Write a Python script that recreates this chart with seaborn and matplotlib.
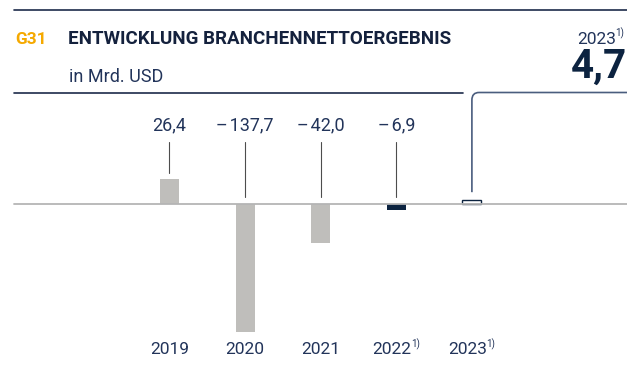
import matplotlib
matplotlib.use("Agg")
import matplotlib.pyplot as plt
from matplotlib.lines import Line2D
from matplotlib.path import Path
from matplotlib.patches import PathPatch
import seaborn as sns
import pandas as pd

years = ["2019", "2020", "2021", "2022", "2023"]
footnotes = ["", "", "", "1)", "1)"]
values = [26.4, -137.7, -42.0, -6.9, 4.7]
value_labels = ["26,4", "–\u200a137,7", "–\u200a42,0", "–\u200a6,9"]
bar_colors = ["#bfbebb", "#bfbebb", "#bfbebb", "#0c2340", "#ffffff"]

NAVY = "#0c2340"
TEXT = "#22345a"
ORANGE = "#f5a900"

sns.set_theme(style="white")
plt.rcParams["font.family"] = ["Roboto", "DejaVu Sans"]

W, H = 627, 373
fig = plt.figure(figsize=(W / 100, H / 100), dpi=100)
ax = fig.add_axes([0, 0, 1, 1])
renderer = fig.canvas.get_renderer()

df = pd.DataFrame({"year": years, "value": values})
sns.barplot(data=df, x="year", y="value", hue="year", palette=bar_colors,
            width=0.25, legend=False, ax=ax, saturation=1, zorder=2)
for i, p in enumerate(ax.patches):
    if i == len(years) - 1:
        p.set_edgecolor(NAVY)
        p.set_linewidth(1.0)
    else:
        p.set_edgecolor("none")

# horizontal scale: ~75.6 px per category, first category at x=169.5 px
px_cat = 75.6
x0 = 169.5
ax.set_xlim(-x0 / px_cat, (W - x0) / px_cat)
# vertical scale: ~0.93 px per unit, zero line at y=204 px from top
px_unit = 0.93
y0 = 204
ax.set_ylim(-(H - y0) / px_unit, y0 / px_unit)
ax.axis("off")


def label_with_note(x_px, y_px, text, note, size, note_size, color, align="center"):
    """Draw text plus a small raised footnote mark; align the whole group."""
    main = fig.text(0, 0, text, ha="left", va="baseline", fontsize=size, color=color)
    bb = main.get_window_extent(renderer)
    w_main, h_main = bb.width, bb.height
    w_note = 0.0
    if note:
        probe = fig.text(0, 0, note, fontsize=note_size)
        w_note = probe.get_window_extent(renderer).width
        probe.remove()
    total = w_main + w_note
    if align == "center":
        left = x_px - total / 2
    else:  # right
        left = x_px - total
    main.set_position((left / W, y_px / H))
    if note:
        fig.text((left + w_main - 0.5) / W, (y_px + 0.45 * h_main) / H, note,
                 ha="left", va="baseline", fontsize=note_size, color=color)


# zero line
ax.axhline(0, xmin=14 / W, xmax=1, color="#b5b5b5", lw=1.3, zorder=3)

# leader lines and value labels
for i, (v, lab) in enumerate(zip(values[:4], value_labels)):
    ax.plot([i, i], [max(v, 0) + 7, 66.7], color="#4d4d4d", lw=0.8, zorder=2)
    ax.text(i, 85, lab, ha="center", va="center", fontsize=13, color=TEXT)

# year labels under the bars
for i, (lab, note) in enumerate(zip(years, footnotes)):
    xp, _ = ax.transData.transform((i, 0))
    label_with_note(xp, H - 354, lab, note, 12.5, 7, TEXT)

# connector from the 2023 bar to the headline figure
inv = ax.transData.inverted()
xi = 4
y_low = values[4] + 8
_, y_top = inv.transform((0, H - 92.5))
_, y_knee = inv.transform((0, H - 100))
x_knee, _ = inv.transform((479, 0))
x_right, _ = inv.transform((W + 2, 0))
path = Path([(xi, y_low), (xi, y_knee), (xi, y_top), (x_knee, y_top), (x_right, y_top)],
            [Path.MOVETO, Path.LINETO, Path.CURVE3, Path.CURVE3, Path.LINETO])
ax.add_patch(PathPatch(path, fill=False, edgecolor="#4a5d7e", lw=1.2, zorder=2,
                       clip_on=False))

# header rules
def hline(y_px, x1_px, x2_px):
    fig.add_artist(Line2D([x1_px / W, x2_px / W], [1 - y_px / H, 1 - y_px / H],
                          transform=fig.transFigure, color="#1c2b4a", lw=1.2))

hline(10, 14, W)
hline(92.5, 14, 463)

# header texts
fig.text(15 / W, 1 - 43.5 / H, "G31", ha="left", va="baseline", fontsize=12.5,
         fontweight="bold", color=ORANGE)
fig.text(68 / W, 1 - 43.5 / H, "ENTWICKLUNG BRANCHENNETTOERGEBNIS", ha="left",
         va="baseline", fontsize=13.5, fontweight="bold", color="#14213d")
fig.text(69 / W, 1 - 81.5 / H, "in Mrd. USD", ha="left", va="baseline",
         fontsize=13, color=TEXT)
label_with_note(625, H - 43.5, "2023", "1)", 12.5, 7, TEXT, align="right")
fig.text(627 / W, 1 - 77.5 / H, "4,7", ha="right", va="baseline", fontsize=29,
         fontweight="bold", color=NAVY)

fig.savefig("out.png", dpi=100)
